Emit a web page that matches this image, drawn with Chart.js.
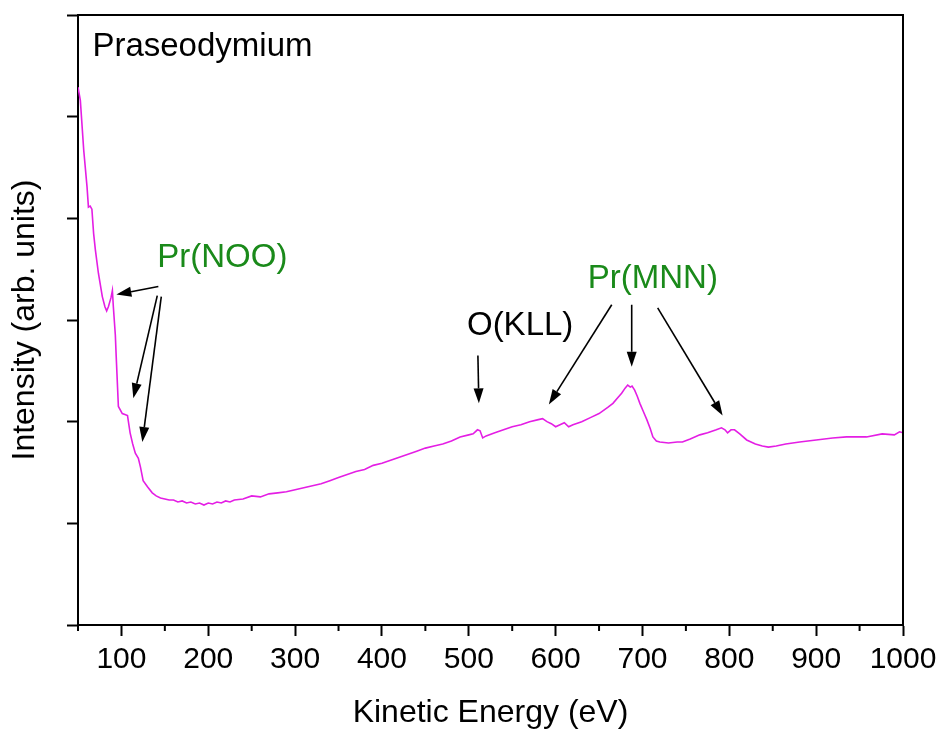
<!DOCTYPE html>
<html>
<head>
<meta charset="utf-8">
<title>Praseodymium AES</title>
<script src="https://cdn.jsdelivr.net/npm/chart.js@4.4.1/dist/chart.umd.min.js"></script>
<style>
  html, body { margin: 0; padding: 0; background: #fff; }
  #wrap { width: 944px; height: 734px; }
</style>
</head>
<body>
<div id="wrap"><canvas id="grafica" width="944" height="734"></canvas></div>
<script>
// kinetic energy (eV) and intensity (arb. units)
const energia = [
  50, 52.7, 56.6, 60.4, 62, 64, 66, 68, 70, 73.5, 78, 81, 83, 85, 88, 89.6, 90.7, 93, 94, 96.5,
  101, 104, 107, 110, 113, 116, 119.5, 122, 125, 130, 135.5, 140, 145, 150, 155, 160, 165, 170,
  175, 180, 185, 190, 195, 200, 205, 210, 215, 220, 225, 230, 240, 250, 260, 270, 280, 290, 300,
  310, 320, 330, 340, 350, 360, 370, 380, 390, 400, 410, 420, 430, 440, 450, 460, 470, 480, 490,
  500, 505, 510, 513, 516, 520, 530, 540, 550, 560, 570, 580, 585, 590, 595, 600, 605, 610, 615,
  620, 630, 640, 650, 660, 666, 672, 676, 680, 683, 686, 688, 691, 694, 697, 701, 705, 709, 712,
  716, 720, 730, 740, 746, 755, 766, 775, 785, 791, 795, 798, 802, 806, 812, 820, 830, 838, 845,
  854, 865, 881, 900, 919, 935, 958, 976, 990, 996, 1000
];
const intensidad = [
  5.29, 5.16, 4.67, 4.31, 4.11, 4.12, 4.09, 3.85, 3.69, 3.46, 3.23, 3.13, 3.09, 3.13, 3.22, 3.29, 3.13, 2.85, 2.64, 2.15,
  2.08, 2.07, 2.06, 1.89, 1.78, 1.69, 1.64, 1.55, 1.42, 1.36, 1.30, 1.27, 1.25, 1.24, 1.23, 1.23, 1.21, 1.22,
  1.20, 1.21, 1.19, 1.20, 1.18, 1.20, 1.19, 1.21, 1.20, 1.22, 1.21, 1.23, 1.24, 1.27, 1.26, 1.29, 1.30, 1.31, 1.33,
  1.35, 1.37, 1.39, 1.42, 1.45, 1.48, 1.51, 1.53, 1.57, 1.59, 1.62, 1.65, 1.68, 1.71, 1.74, 1.76, 1.78, 1.81, 1.85,
  1.87, 1.88, 1.92, 1.91, 1.84, 1.86, 1.89, 1.92, 1.95, 1.97, 2.00, 2.02, 2.03, 2.00, 1.98, 1.95, 1.97, 1.99, 1.95,
  1.97, 2.00, 2.04, 2.08, 2.14, 2.18, 2.24, 2.28, 2.33, 2.36, 2.34, 2.35, 2.31, 2.25, 2.18, 2.10, 2.02, 1.93, 1.85,
  1.81, 1.80, 1.79, 1.80, 1.80, 1.83, 1.87, 1.89, 1.92, 1.94, 1.92, 1.89, 1.92, 1.92, 1.88, 1.82, 1.78, 1.76, 1.75,
  1.76, 1.78, 1.80, 1.82, 1.84, 1.85, 1.85, 1.88, 1.87, 1.90, 1.89
];

const xTicksMayores = [100, 200, 300, 400, 500, 600, 700, 800, 900, 1000];
const xTicksMenores = [50, 150, 250, 350, 450, 550, 650, 750, 850, 950];
const yTicks = [0, 1, 2, 3, 4, 5, 6];

// labels: [text, energy, intensity (baseline), colour]
const textos = [
  ['Praseodymium', 66.6, 5.60, '#000000'],
  ['Pr(NOO)', 141.3, 3.52, '#1a8a1a'],
  ['O(KLL)', 497.9, 2.85, '#000000'],
  ['Pr(MNN)', 637, 3.31, '#1a8a1a']
];
// arrows: [x0, y0, x1 (head), y1 (head)] in data units
const flechas = [
  [142.5, 3.33, 94.2, 3.25],
  [141.3, 3.24, 113.7, 2.23],
  [145.9, 3.23, 124.1, 1.80],
  [510.5, 2.65, 511.6, 2.18],
  [664.6, 3.15, 592.2, 2.17],
  [687.6, 3.15, 687.6, 2.54],
  [717.5, 3.12, 792.3, 2.06]
];

const FUENTE = 'Liberation Sans, Arial, sans-serif';

const marcoPlugin = {
  id: 'marco',
  afterDraw(chart) {
    const {ctx, chartArea: a, scales: {x}} = chart;
    ctx.save();
    ctx.strokeStyle = '#000';
    ctx.lineWidth = 2;
    // top and right edges of the box
    ctx.beginPath();
    ctx.moveTo(a.left, a.top);
    ctx.lineTo(a.right, a.top);
    ctx.lineTo(a.right, a.bottom);
    ctx.stroke();
    // minor ticks on x
    xTicksMenores.forEach(v => {
      const px = x.getPixelForValue(v);
      ctx.beginPath();
      ctx.moveTo(px, a.bottom);
      ctx.lineTo(px, a.bottom + 6);
      ctx.stroke();
    });
    ctx.restore();
  }
};

const anotacionesPlugin = {
  id: 'anotaciones',
  afterDatasetsDraw(chart) {
    const {ctx, scales: {x, y}} = chart;
    ctx.save();
    ctx.font = '33px ' + FUENTE;
    ctx.textBaseline = 'alphabetic';
    ctx.textAlign = 'left';
    textos.forEach(([t, ex, ey, col]) => {
      ctx.fillStyle = col;
      ctx.fillText(t, x.getPixelForValue(ex), y.getPixelForValue(ey));
    });

    ctx.strokeStyle = '#000';
    ctx.fillStyle = '#000';
    ctx.lineWidth = 1.6;
    flechas.forEach(([x0, y0, x1, y1]) => {
      const ax = x.getPixelForValue(x0), ay = y.getPixelForValue(y0);
      const bx = x.getPixelForValue(x1), by = y.getPixelForValue(y1);
      const ang = Math.atan2(by - ay, bx - ax);
      const largo = 15, ancho = 5;
      const cx = bx - largo * Math.cos(ang), cy = by - largo * Math.sin(ang);
      ctx.beginPath();
      ctx.moveTo(ax, ay);
      ctx.lineTo(cx, cy);
      ctx.stroke();
      ctx.beginPath();
      ctx.moveTo(bx, by);
      ctx.lineTo(cx + ancho * Math.sin(ang), cy - ancho * Math.cos(ang));
      ctx.lineTo(cx - ancho * Math.sin(ang), cy + ancho * Math.cos(ang));
      ctx.closePath();
      ctx.fill();
    });
    ctx.restore();
  }
};

const ctx = document.getElementById('grafica').getContext('2d');
new Chart(ctx, {
  type: 'line',
  data: {
    datasets: [{
      data: energia.map((e, i) => ({x: e, y: intensidad[i]})),
      borderColor: '#e41ee4',
      borderWidth: 1.6,
      pointRadius: 0,
      tension: 0,
      fill: false
    }]
  },
  options: {
    responsive: false,
    animation: false,
    layout: { padding: { top: 15, right: 41, left: 0, bottom: 0 } },
    plugins: { legend: { display: false }, tooltip: { enabled: false } },
    scales: {
      x: {
        type: 'linear',
        min: 50,
        max: 1000,
        afterBuildTicks: s => { s.ticks = xTicksMayores.map(v => ({value: v})); },
        afterFit: s => { s.height = 109; },
        border: { display: true, color: '#000', width: 2 },
        grid: { drawOnChartArea: false, drawTicks: true, tickLength: 11, tickWidth: 2, tickColor: '#000' },
        ticks: {
          color: '#000', font: { family: FUENTE, size: 30 }, padding: 6, maxRotation: 0, autoSkip: false,
          callback: v => String(v)
        },
        title: { display: true, text: 'Kinetic Energy (eV)', color: '#000', font: { family: FUENTE, size: 32 }, padding: { top: 0, bottom: 2 } }
      },
      y: {
        min: 0,
        max: 6,
        afterBuildTicks: s => { s.ticks = yTicks.map(v => ({value: v})); },
        afterFit: s => { s.width = 78; },
        border: { display: true, color: '#000', width: 2 },
        grid: { drawOnChartArea: false, drawTicks: true, tickLength: 11, tickWidth: 2, tickColor: '#000' },
        ticks: { display: false },
        title: { display: true, text: 'Intensity (arb. units)', color: '#000', font: { family: FUENTE, size: 32 }, padding: { top: 6, bottom: 0 } }
      }
    }
  },
  plugins: [marcoPlugin, anotacionesPlugin]
});
</script>
</body>
</html>
